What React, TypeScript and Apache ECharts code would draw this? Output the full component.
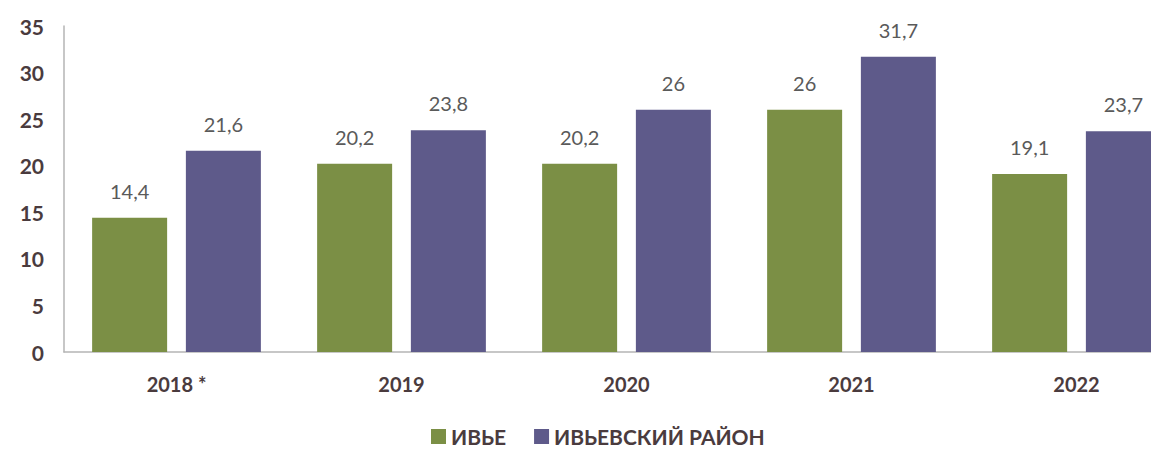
import React, { useEffect, useRef } from "react";
import * as echarts from "echarts";

const categories = ["2018 *", "2019", "2020", "2021", "2022"];
const seriesNames = ["ИВЬЕ", "ИВЬЕВСКИЙ РАЙОН"];
const ivyeValues = [14.4, 20.2, 20.2, 26, 19.1];
const districtValues = [21.6, 23.8, 26, 31.7, 23.7];
const yTicks = [0, 5, 10, 15, 20, 25, 30, 35];

const fmt = (v: number) => String(v).replace(".", ",");

export default function App() {
  const ref = useRef<HTMLDivElement>(null);
  useEffect(() => {
    document.body.style.margin = "0";
    const chart = echarts.init(ref.current!, null, { renderer: "svg" });
    const labelStyle = {
      show: true,
      position: "top" as const,
      distance: 17,
      color: "#5a5a5a",
      fontSize: 20,
      fontFamily: "Lato",
      formatter: (p: any) => fmt(p.value),
    };
    chart.setOption({
      animation: false,
      backgroundColor: "#ffffff",
      textStyle: { fontFamily: "Lato" },
      grid: {
        left: 64,
        top: 26,
        bottom: 105,
        right: -38,
        containLabel: false,
        outerBoundsMode: "none",
      },
      legend: {
        data: seriesNames,
        bottom: 5,
        left: 426,
        itemWidth: 15,
        itemHeight: 15,
        itemGap: 28,
        icon: "rect",
        textStyle: { color: "#4a3b3e", fontSize: 21, fontFamily: "Lato", fontWeight: "bold" },
      },
      xAxis: {
        type: "category",
        data: categories,
        axisLine: { show: true, lineStyle: { color: "#b5b5b5", width: 1.5 } },
        axisTick: { show: false },
        axisLabel: { color: "#4a3b3e", fontSize: 20, fontFamily: "Lato", fontWeight: "bold", margin: 22 },
      },
      yAxis: {
        type: "value",
        min: yTicks[0],
        max: yTicks[yTicks.length - 1],
        interval: 5,
        axisLine: { show: true, lineStyle: { color: "#b5b5b5", width: 1.5 } },
        axisTick: { show: false },
        splitLine: { show: false },
        axisLabel: { color: "#4a3b3e", fontSize: 21, fontFamily: "Lato", fontWeight: "bold", margin: 20 },
      },
      series: [
        {
          name: seriesNames[0],
          type: "bar",
          data: ivyeValues,
          barWidth: 75,
          barGap: "25%",
          itemStyle: { color: "#7b8f45" },
          label: labelStyle,
        },
        {
          name: seriesNames[1],
          type: "bar",
          data: districtValues,
          barWidth: 75,
          itemStyle: { color: "#5e5a8a" },
          label: labelStyle,
        },
      ],
    });
    return () => chart.dispose();
  }, []);
  return <div ref={ref} style={{ width: 1151, height: 457 }} />;
}
